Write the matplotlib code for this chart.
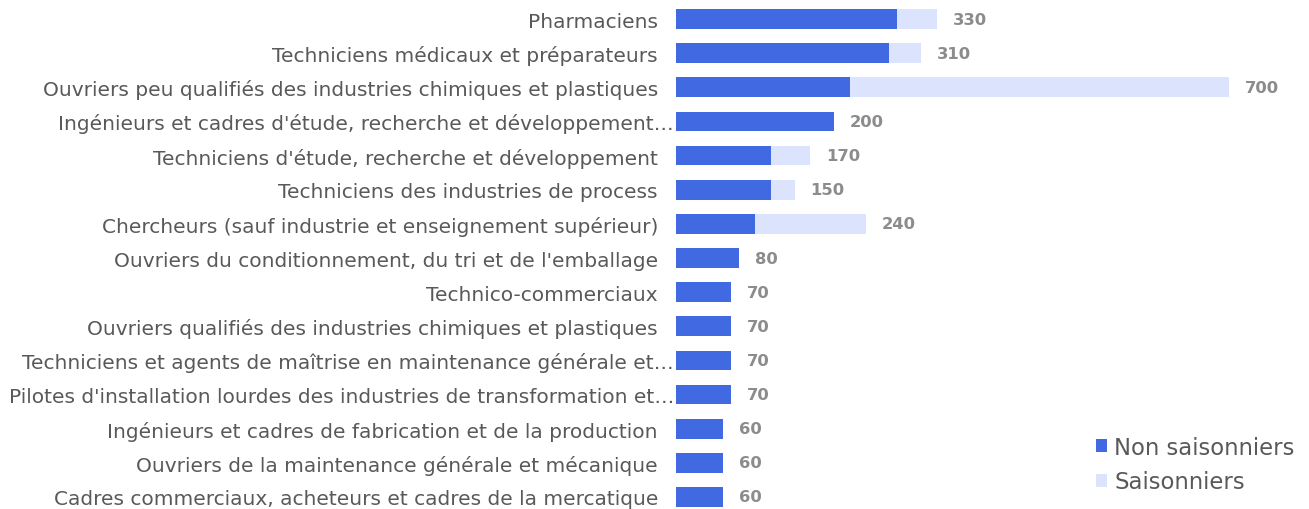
import matplotlib
matplotlib.use("Agg")
import matplotlib.pyplot as plt
from matplotlib.patches import Patch

categories = [
    "Pharmaciens",
    "Techniciens médicaux et préparateurs",
    "Ouvriers peu qualifiés des industries chimiques et plastiques",
    "Ingénieurs et cadres d'étude, recherche et développement…",
    "Techniciens d'étude, recherche et développement",
    "Techniciens des industries de process",
    "Chercheurs (sauf industrie et enseignement supérieur)",
    "Ouvriers du conditionnement, du tri et de l'emballage",
    "Technico-commerciaux",
    "Ouvriers qualifiés des industries chimiques et plastiques",
    "Techniciens et agents de maîtrise en maintenance générale et…",
    "Pilotes d'installation lourdes des industries de transformation et…",
    "Ingénieurs et cadres de fabrication et de la production",
    "Ouvriers de la maintenance générale et mécanique",
    "Cadres commerciaux, acheteurs et cadres de la mercatique",
]
non_saisonniers = [280, 270, 220, 200, 120, 120, 100, 80, 70, 70, 70, 70, 60, 60, 60]
saisonniers = [50, 40, 480, 0, 50, 30, 140, 0, 0, 0, 0, 0, 0, 0, 0]
totals = [330, 310, 700, 200, 170, 150, 240, 80, 70, 70, 70, 70, 60, 60, 60]
series_names = ["Non saisonniers", "Saisonniers"]

dark = "#4169E1"
light = "#dce3fc"
text_col = "#595959"
val_col = "#8c8c8c"

fig = plt.figure(figsize=(13.09, 5.10), dpi=100)
ax = fig.add_axes([676 / 1309, 0, (1229 - 676) / 1309, 1])

y = list(range(len(categories)))
ax.barh(y, non_saisonniers, height=0.58, color=dark, edgecolor="none")
ax.barh(y, saisonniers, left=non_saisonniers, height=0.58, color=light, edgecolor="none")

for yi, t in zip(y, totals):
    ax.annotate(str(t), xy=(t, yi), xytext=(11.5, 0), textcoords="offset points",
                ha="left", va="center", fontsize=11.8, fontweight="bold", color=val_col)

ax.set_xlim(0, 700)
ax.set_ylim(14 + 12 / 34.14, -20 / 34.14)
ax.set_yticks(y)
ax.set_yticklabels(categories, fontsize=14.5, color=text_col)
ax.tick_params(axis="y", length=0, pad=13)
for tick, cat in zip(ax.yaxis.get_major_ticks(), categories):
    if cat.endswith("…"):
        tick.set_pad(1.5)
ax.set_xticks([])
for s in ax.spines.values():
    s.set_visible(False)

handles = [Patch(facecolor=dark, edgecolor="none"), Patch(facecolor=light, edgecolor="none")]
fig.legend(handles, series_names, loc="upper left",
           bbox_to_anchor=(1096 / 1309, (510 - 437) / 510), frameon=False,
           fontsize=16.4, labelcolor=text_col, handlelength=0.5, handleheight=0.5,
           handletextpad=0.3, labelspacing=0.5, borderaxespad=0, borderpad=0)

fig.savefig("out.png", dpi=100)
